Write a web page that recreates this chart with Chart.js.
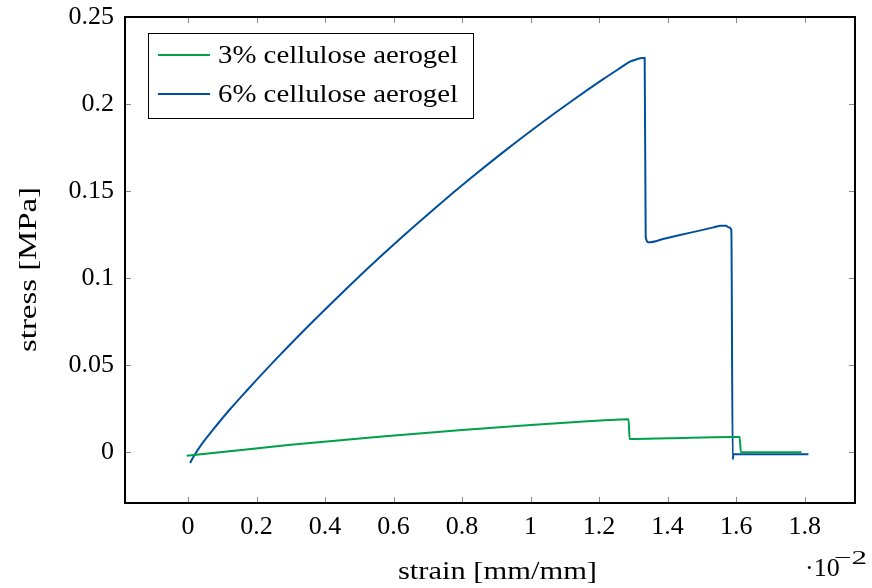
<!DOCTYPE html>
<html>
<head>
<meta charset="utf-8">
<script src="https://cdn.jsdelivr.net/npm/chart.js@4/dist/chart.umd.min.js"></script>
<style>
  html, body { margin: 0; padding: 0; background: #fff; }
  #wrap { width: 872px; height: 588px; position: relative; }
</style>
</head>
<body>
<div id="wrap"><canvas id="c" width="872" height="588"></canvas></div>
<script>
// Strain values (x 10^-2 mm/mm) and stress values (MPa) for each sample
const strain3 = [-0.004, 0.1, 0.3, 0.558, 0.8, 1.0, 1.145, 1.25, 1.286, 1.289, 1.4, 1.587, 1.61, 1.614, 1.791];
const stress3 = [-0.0022, 0.0000, 0.0042, 0.0088, 0.0126, 0.0155, 0.0174, 0.0186, 0.0188, 0.0075, 0.0079, 0.0087, 0.0086, -0.0002, -0.0002];

const strain6 = [0.006, 0.015, 0.04, 0.073, 0.12, 0.171, 0.27, 0.366, 0.463, 0.558, 0.629, 0.726, 0.823, 0.921, 1.018, 1.115, 1.213, 1.26, 1.29, 1.31, 1.325, 1.333, 1.336, 1.344, 1.39, 1.436, 1.49, 1.534, 1.555, 1.570, 1.580, 1.586, 1.590, 1.592, 1.811];
const stress6 = [-0.0063, -0.0030, 0.0045, 0.0128, 0.0240, 0.0352, 0.0561, 0.0753, 0.0940, 0.1116, 0.1243, 0.1410, 0.1570, 0.1725, 0.1871, 0.2010, 0.2144, 0.2205, 0.2243, 0.2257, 0.2265, 0.2264, 0.1237, 0.1205, 0.1226, 0.1247, 0.1271, 0.1291, 0.1300, 0.1300, 0.1290, 0.1275, -0.0042, -0.0013, -0.0013];

const xTicks = [0, 0.2, 0.4, 0.6, 0.8, 1, 1.2, 1.4, 1.6, 1.8];
const yTicks = [0, 0.05, 0.1, 0.15, 0.2, 0.25];

const seriesNames = ['3% cellulose aerogel', '6% cellulose aerogel'];
const seriesColors = ['#00a049', '#004f9e'];

const FONT = '"Liberation Serif", "DejaVu Serif", serif';

const toPoints = (xs, ys) => xs.map((x, i) => ({ x: x, y: ys[i] }));

// Draws text widened horizontally so that it spans the given width, starting at x
function stretchText(ctx, text, x, y, width) {
  const w = ctx.measureText(text).width;
  ctx.save();
  ctx.translate(x, y);
  ctx.scale(width / w, 1);
  ctx.fillText(text, 0, 0);
  ctx.restore();
}

// Frame, inward tick marks, axis titles, exponent label and legend
const framePlugin = {
  id: 'frame',
  afterDatasetsDraw(chart) {
    const ctx = chart.ctx;
    const a = chart.chartArea;
    const xs = chart.scales.x, ys = chart.scales.y;
    ctx.save();
    ctx.strokeStyle = '#8a8a8a';
    ctx.lineWidth = 1;
    const tl = 6;
    xTicks.forEach(v => {
      const px = Math.round(xs.getPixelForValue(v)) + 0.5;
      ctx.beginPath();
      ctx.moveTo(px, a.bottom); ctx.lineTo(px, a.bottom - tl);
      ctx.moveTo(px, a.top); ctx.lineTo(px, a.top + tl);
      ctx.stroke();
    });
    yTicks.forEach(v => {
      const py = Math.round(ys.getPixelForValue(v)) + 0.5;
      ctx.beginPath();
      ctx.moveTo(a.left, py); ctx.lineTo(a.left + tl, py);
      ctx.moveTo(a.right, py); ctx.lineTo(a.right - tl, py);
      ctx.stroke();
    });
    ctx.strokeStyle = '#000';
    ctx.lineWidth = 2;
    ctx.strokeRect(a.left, a.top, a.right - a.left, a.bottom - a.top);

    ctx.fillStyle = '#000';
    ctx.textAlign = 'left';

    // axis titles
    ctx.font = '26px ' + FONT;
    ctx.textBaseline = 'alphabetic';
    stretchText(ctx, 'strain [mm/mm]', 398, 579, 199);
    ctx.save();
    ctx.translate(29, 352);
    ctx.rotate(-Math.PI / 2);
    ctx.textBaseline = 'middle';
    stretchText(ctx, 'stress [MPa]', 0, 0, 165);
    ctx.restore();

    // exponent of the x axis
    ctx.textBaseline = 'alphabetic';
    ctx.font = '26px ' + FONT;
    ctx.fillText('\u00B710', 805, 576);
    ctx.font = '19px ' + FONT;
    stretchText(ctx, '\u22122', 834, 564, 33);

    // legend
    const lx = 148, ly = 33, lw = 325, lh = 85;
    ctx.fillStyle = '#fff';
    ctx.fillRect(lx, ly, lw, lh);
    ctx.strokeStyle = '#000';
    ctx.lineWidth = 1;
    ctx.strokeRect(lx + 0.5, ly + 0.5, lw, lh);
    ctx.font = '25px ' + FONT;
    ctx.textBaseline = 'middle';
    const rows = [55, 94];
    seriesNames.forEach((name, i) => {
      ctx.strokeStyle = seriesColors[i];
      ctx.lineWidth = 2;
      ctx.beginPath();
      ctx.moveTo(158, rows[i]); ctx.lineTo(210, rows[i]);
      ctx.stroke();
      ctx.fillStyle = '#000';
      stretchText(ctx, name, 218, rows[i] + 1, 240);
    });
    ctx.restore();
  }
};

new Chart(document.getElementById('c'), {
  type: 'line',
  data: {
    datasets: [
      { label: seriesNames[0], data: toPoints(strain3, stress3), borderColor: seriesColors[0], borderWidth: 2, pointRadius: 0, fill: false, cubicInterpolationMode: 'monotone' },
      { label: seriesNames[1], data: toPoints(strain6, stress6), borderColor: seriesColors[1], borderWidth: 2, pointRadius: 0, fill: false, cubicInterpolationMode: 'monotone' }
    ]
  },
  options: {
    responsive: false,
    animation: false,
    layout: { padding: { left: 0, top: 17, right: 17, bottom: 0 } },
    plugins: { legend: { display: false }, tooltip: { enabled: false } },
    scales: {
      x: {
        type: 'linear',
        min: -0.184,
        max: 1.947,
        grid: { display: false, drawTicks: false },
        border: { display: false },
        afterBuildTicks: s => { s.ticks = xTicks.map(v => ({ value: v })); },
        afterFit: s => { s.height = 85; s.paddingLeft = 0; s.paddingRight = 0; },
        ticks: {
          color: '#000',
          font: { family: FONT, size: 26 },
          padding: 9,
          maxRotation: 0,
          autoSkip: false,
          callback: v => String(v)
        }
      },
      y: {
        type: 'linear',
        min: -0.0293,
        max: 0.25,
        grid: { display: false, drawTicks: false },
        border: { display: false },
        afterBuildTicks: s => { s.ticks = yTicks.map(v => ({ value: v })); },
        afterFit: s => { s.width = 125; s.paddingTop = 0; s.paddingBottom = 0; },
        ticks: {
          color: '#000',
          font: { family: FONT, size: 26 },
          padding: 11,
          autoSkip: false,
          callback: v => String(v)
        }
      }
    }
  },
  plugins: [framePlugin]
});
</script>
</body>
</html>
